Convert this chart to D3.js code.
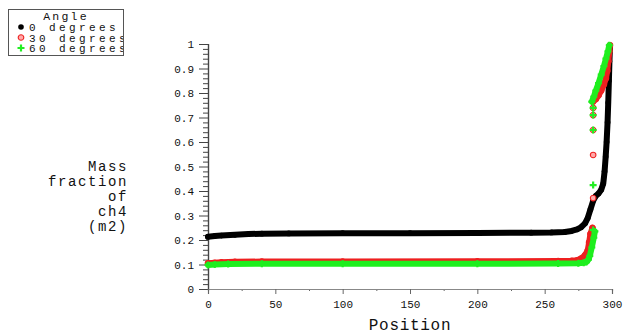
<!DOCTYPE html>
<html>
<head>
<meta charset="utf-8">
<script src="https://cdn.jsdelivr.net/npm/d3@7"></script>
<style>
  html, body { margin: 0; padding: 0; background: #fff; }
  svg { display: block; }
  text { font-family: "Liberation Mono", "DejaVu Sans Mono", monospace; fill: #111; }
</style>
</head>
<body>
<svg id="chart" width="627" height="334"></svg>
<script>
// Mass fraction of ch4 along the sampling line, one series per inlet angle.
// Each series: main profile, upper branch near the outlet, and isolated cells.
const seriesNames = ["0 degrees", "30 degrees", "60 degrees"];

const black0 = [[0,0.213],[5,0.216],[10,0.218],[20,0.221],[30,0.224],[40,0.226],[60,0.227],[100,0.228],
  [150,0.228],[200,0.229],[240,0.230],[255,0.231],[265,0.233],[270,0.237],[274,0.243],[277,0.252],
  [280,0.268],[282,0.29],[284,0.325],[286,0.36],[288,0.38],[290,0.39],[292,0.405],[293.5,0.43],
  [294.5,0.48],[295.3,0.54],[296,0.6],[296.7,0.68],[297.2,0.76],[297.7,0.85],[298.1,0.93],[298.5,0.99]];

const red30Lower = [[0,0.105],[5,0.107],[10,0.109],[20,0.111],[40,0.112],[100,0.112],[200,0.113],
  [260,0.114],[270,0.115],[274,0.117],[277,0.124],[280,0.138],[282,0.158],[283,0.19],[284,0.225],[285.5,0.25]];
const red30Upper = [[286,0.765],[288,0.775],[290,0.79],[292,0.81],[294,0.835],[295.5,0.86],
  [296.5,0.89],[297.3,0.93],[298,0.97],[298.5,0.995]];
const red30Cells = [[286,0.371],[286,0.547],[286,0.649],[286,0.71],[286,0.739]];

const green60Lower = [[0,0.098],[5,0.1],[15,0.102],[40,0.103],[100,0.103],[200,0.103],[260,0.104],
  [275,0.105],[279,0.107],[281,0.11],[282.5,0.12],[283.5,0.135],[285,0.17],[286.5,0.21],[287.3,0.235]];
const green60Upper = [[285,0.765],[286.5,0.785],[288,0.81],[290,0.84],[292,0.875],[294,0.91],
  [295.5,0.94],[297,0.97],[298,0.995]];
const green60Cells = [[286,0.241],[286,0.424],[286,0.649],[286,0.71],[286,0.739]];

const xTickValues = [0, 50, 100, 150, 200, 250, 300];
const xMinorTicks = [25, 75, 125, 175, 225, 275];
const yTickValues = [0, 0.1, 0.2, 0.3, 0.4, 0.5, 0.6, 0.7, 0.8, 0.9, 1];
const yTickLabels = ["0", "0.1", "0.2", "0.3", "0.4", "0.5", "0.6", "0.7", "0.8", "0.9", "1"];
const yMinorTicks = d3.range(0, 51).map(i => i / 50).filter(v => Math.abs(v * 10 - Math.round(v * 10)) > 1e-6);
const yTitleLines = ["Mass", "fraction", "of", "ch4", "(m2)"];

const svg = d3.select("#chart");
const x = d3.scaleLinear().domain([0, 300]).range([208, 612]);
const y = d3.scaleLinear().domain([0, 1]).range([289, 44]);

// ---- axes ----
const yAxis = svg.append("g").attr("transform", `translate(${x(0)},0)`);
yAxis.call(d3.axisLeft(y).tickValues(yMinorTicks).tickSize(5).tickFormat(""));
yAxis.append("g").call(d3.axisLeft(y).tickValues(yTickValues).tickSize(9).tickPadding(5)
  .tickFormat((d, i) => yTickLabels[i]));
yAxis.selectAll("path.domain").attr("stroke", "#444");
yAxis.selectAll("line").attr("stroke", "#444");
yAxis.selectAll("text").style("font-size", "11px").attr("fill", "#111");

const xAxis = svg.append("g").attr("transform", `translate(0,${y(0)})`);
xAxis.call(d3.axisBottom(x).tickValues(xMinorTicks).tickSize(2).tickFormat(""));
xAxis.append("g").call(d3.axisBottom(x).tickValues(xTickValues).tickSize(5).tickPadding(6)
  .tickFormat(d3.format("d")));
xAxis.selectAll("path.domain").attr("stroke", "#888");
xAxis.selectAll("line").attr("stroke", "#666");
xAxis.selectAll("text").style("font-size", "11px").attr("fill", "#111");
svg.selectAll(".domain").attr("stroke-width", 1.2);

svg.append("text")
  .attr("x", x(150)).attr("y", 330)
  .attr("text-anchor", "middle")
  .style("font-size", "16px").style("letter-spacing", "0.7px")
  .attr("fill", "#222")
  .text("Position");

svg.append("g").selectAll("text").data(yTitleLines).join("text")
  .attr("x", 128).attr("y", (d, i) => 171 + i * 15)
  .attr("text-anchor", "end")
  .style("font-size", "14px").style("letter-spacing", "1.6px")
  .attr("fill", "#222")
  .text(d => d);

// ---- marker shapes ----
const markers = {
  dot: (g) => g.append("circle").attr("r", 2.8).attr("fill", "#000"),
  ring: (g) => g.append("circle").attr("r", 2.8).attr("fill", "#ffaaaa")
    .attr("stroke", "#ee2222").attr("stroke-width", 1.1),
  plus: (g) => g.append("path").attr("d", "M-3.5,0H3.5M0,-3.5V3.5")
    .attr("stroke", "#22ee22").attr("stroke-width", 2.2)
};

const line = d3.line().x(d => x(d[0])).y(d => y(d[1])).curve(d3.curveLinear);

const series = [
  { name: seriesNames[0], color: "#000000", marker: "dot", branches: [black0], cells: [] },
  { name: seriesNames[1], color: "#ee2020", marker: "ring", branches: [red30Lower, red30Upper], cells: red30Cells },
  { name: seriesNames[2], color: "#1eee1e", marker: "plus", branches: [green60Lower, green60Upper], cells: green60Cells }
];

const plot = svg.append("g");
series.forEach(s => {
  const g = plot.append("g");
  // markers along each profile sit under the dense band drawn through them
  s.branches.flat().forEach(p => {
    const m = g.append("g").attr("transform", `translate(${x(p[0])},${y(p[1])})`);
    markers[s.marker](m);
  });
  s.branches.forEach(b => {
    g.append("path").datum(b).attr("d", line)
      .attr("fill", "none").attr("stroke", s.color)
      .attr("stroke-width", 6).attr("stroke-linejoin", "round").attr("stroke-linecap", "round");
  });
  s.cells.forEach(p => {
    const m = g.append("g").attr("transform", `translate(${x(p[0])},${y(p[1])})`);
    markers[s.marker](m);
  });
});

// ---- legend ----
const legend = svg.append("g");
legend.append("clipPath").attr("id", "legendClip")
  .append("rect").attr("x", 8).attr("y", 9).attr("width", 115).attr("height", 46);
legend.append("rect").attr("x", 8.5).attr("y", 9.5).attr("width", 115).attr("height", 46)
  .attr("fill", "#fff").attr("stroke", "#555").attr("stroke-width", 1);
const legendText = legend.append("g").attr("clip-path", "url(#legendClip)");
legendText.append("text").attr("x", 66).attr("y", 19.5).attr("text-anchor", "middle")
  .style("font-size", "11.5px").style("letter-spacing", "2.2px").attr("fill", "#222").text("Angle");
series.forEach((s, i) => {
  const yy = 27 + i * 10.5;
  const m = legend.append("g").attr("transform", `translate(21,${yy})`);
  markers[s.marker](m);
  legendText.append("text").attr("x", 29).attr("y", yy + 4)
    .style("font-size", "11px").style("letter-spacing", "3.4px")
    .attr("fill", "#222")
    .text(s.name);
});
</script>
</body>
</html>
